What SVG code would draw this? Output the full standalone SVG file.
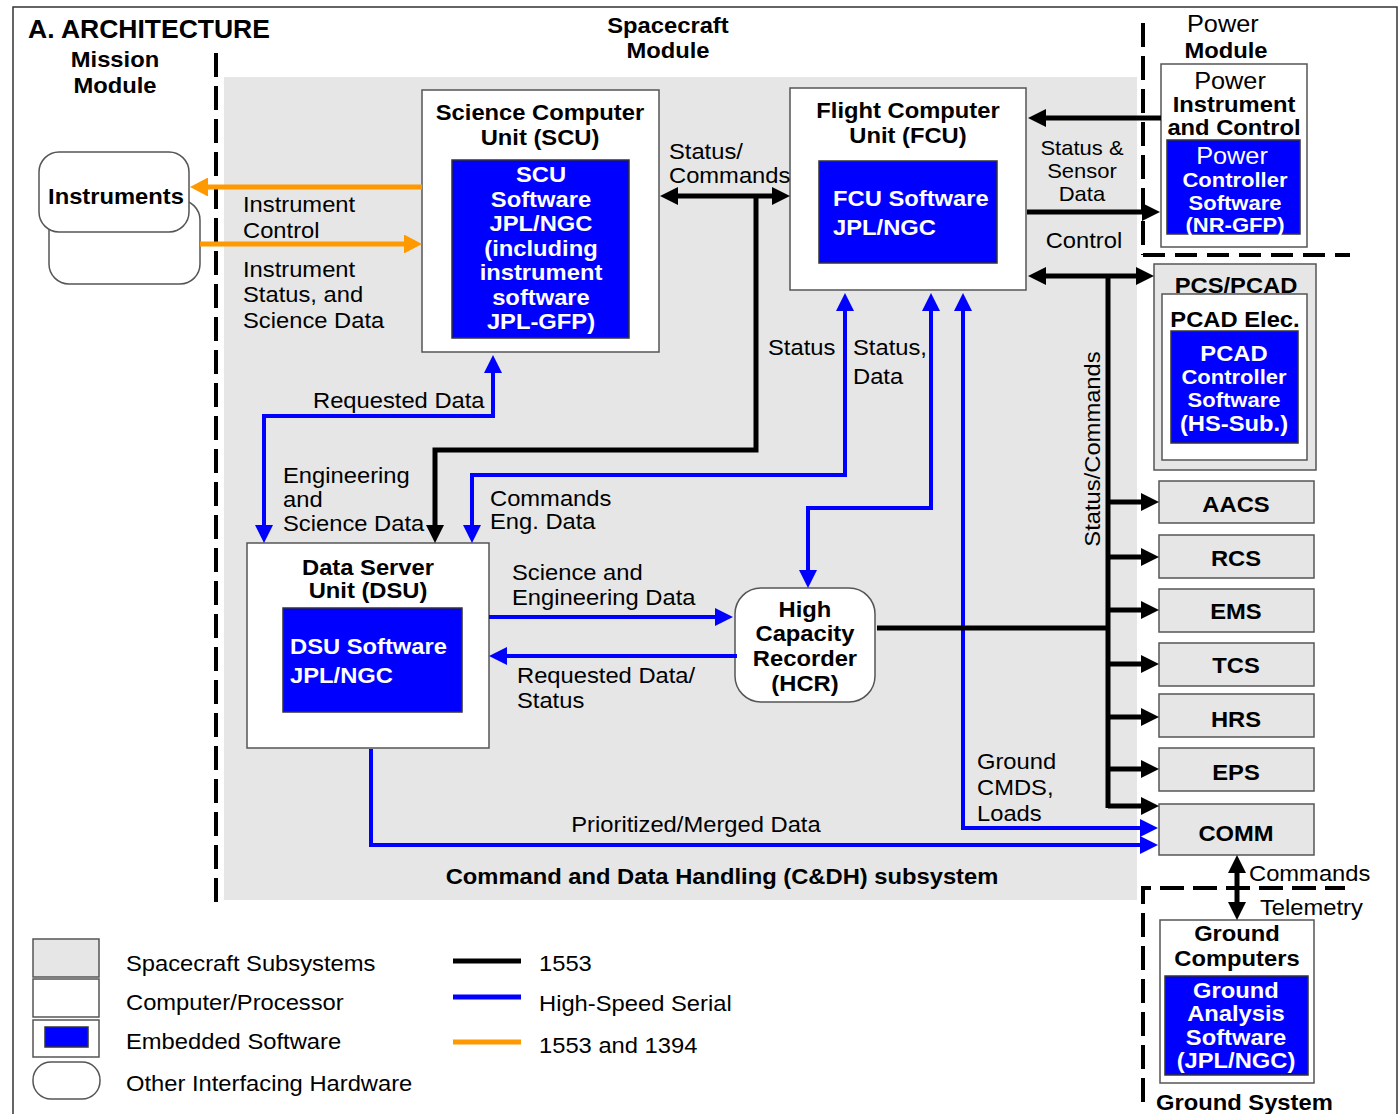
<svg xmlns="http://www.w3.org/2000/svg" width="1400" height="1114" viewBox="0 0 1400 1114">
<style>
text{font-family:"Liberation Sans",Arial,sans-serif;font-size:21.6px;fill:#000;transform-box:fill-box;transform-origin:0 0;transform:scaleX(1.1)}
.m{text-anchor:middle;transform-origin:50% 0}
.b{font-weight:bold}
.w{fill:#fff}
.ttl{font-size:26.5px;transform:none}
.pw{font-size:23px}
.sm{font-size:20px}
.box{fill:#fff;stroke:#555;stroke-width:1.5}
.sub{fill:#e6e6e6;stroke:#555;stroke-width:1.5}
.sw{fill:#0000ff;stroke:#333;stroke-width:1.5}
.k{stroke:#000;stroke-width:5;fill:none;stroke-linejoin:miter}
.bl{stroke:#0000ff;stroke-width:4;fill:none}
.or{stroke:#ff9900;stroke-width:5;fill:none}
.dash{stroke:#000;stroke-width:4;stroke-dasharray:24 9;fill:none}
</style>
<defs>
<marker id="ak" viewBox="0 -9 18 18" refX="0" refY="0" markerWidth="18" markerHeight="18" markerUnits="userSpaceOnUse" orient="auto-start-reverse"><path d="M0,-9 L18,0 L0,9 z" fill="#000"/></marker>
<marker id="ab" viewBox="0 -9 18 18" refX="0" refY="0" markerWidth="18" markerHeight="18" markerUnits="userSpaceOnUse" orient="auto-start-reverse"><path d="M0,-9 L18,0 L0,9 z" fill="#0000ff"/></marker>
<marker id="ao" viewBox="0 -9 18 18" refX="0" refY="0" markerWidth="18" markerHeight="18" markerUnits="userSpaceOnUse" orient="auto-start-reverse"><path d="M0,-9.5 L18,0 L0,9.5 z" fill="#ff9900"/></marker>
</defs>

<rect x="13" y="7" width="1384" height="1120" fill="#fff" stroke="#333" stroke-width="1.5"/>
<rect id="cdh-region" x="224" y="77" width="913" height="823" fill="#e6e6e6"/>

<g id="boundaries">
<path class="dash" d="M216,53 V905"/>
<path class="dash" d="M1143,23 V255"/>
<path class="dash" d="M1143,255 H1350" style="stroke-dasharray:22 10"/>
<path class="dash" d="M1143,1102 V888 H1345" style="stroke-dasharray:24 9"/>
</g>

<g id="headings">
<text x="28" y="38" class="b ttl">A. ARCHITECTURE</text>
<text x="115" y="67" class="b m">Mission</text>
<text x="115" y="93" class="b m">Module</text>
<text x="668" y="33" class="b m">Spacecraft</text>
<text x="668" y="58" class="b m">Module</text>
<text x="1187" y="32" class="pw">Power</text>
<text x="1226" y="58" class="b m">Module</text>
<text x="722" y="884" class="b m">Command and Data Handling (C&amp;DH) subsystem</text>
<text x="1156" y="1110" class="b">Ground System</text>
</g>

<g id="instruments">
<rect x="49" y="200" width="151" height="84" rx="20" class="box"/>
<rect x="39" y="152" width="150" height="80" rx="20" class="box"/>
<text x="116" y="204" class="b m">Instruments</text>
</g>

<g id="scu">
<rect x="422" y="90" width="237" height="262" class="box"/>
<text x="540" y="120" class="b m">Science Computer</text>
<text x="540" y="145" class="b m">Unit (SCU)</text>
<rect x="452" y="160" width="177" height="178" class="sw"/>
<text x="541" y="182" class="b m w">SCU</text>
<text x="541" y="207" class="b m w">Software</text>
<text x="541" y="231" class="b m w">JPL/NGC</text>
<text x="541" y="256" class="b m w">(including</text>
<text x="541" y="280" class="b m w">instrument</text>
<text x="541" y="305" class="b m w">software</text>
<text x="541" y="329" class="b m w">JPL-GFP)</text>
</g>

<g id="fcu">
<rect x="790" y="88" width="236" height="202" class="box"/>
<text x="908" y="118" class="b m">Flight Computer</text>
<text x="908" y="143" class="b m">Unit (FCU)</text>
<rect x="819" y="161" width="178" height="102" class="sw"/>
<text x="833" y="206" class="b w">FCU Software</text>
<text x="833" y="235" class="b w">JPL/NGC</text>
</g>

<g id="dsu">
<rect x="247" y="543" width="242" height="205" class="box"/>
<text x="368" y="575" class="b m">Data Server</text>
<text x="368" y="598" class="b m">Unit (DSU)</text>
<rect x="283" y="608" width="179" height="104" class="sw"/>
<text x="290" y="654" class="b w">DSU Software</text>
<text x="290" y="683" class="b w">JPL/NGC</text>
</g>

<g id="hcr">
<rect x="735" y="588" width="140" height="114" rx="26" class="box"/>
<text x="805" y="617" class="b m">High</text>
<text x="805" y="641" class="b m">Capacity</text>
<text x="805" y="666" class="b m">Recorder</text>
<text x="805" y="691" class="b m">(HCR)</text>
</g>

<g id="power">
<rect x="1161" y="64" width="146" height="183" class="box"/>
<text x="1230" y="89" class="m pw">Power</text>
<text x="1234" y="112" class="b m">Instrument</text>
<text x="1234" y="135" class="b m">and Control</text>
<rect x="1167" y="140" width="133" height="94" class="sw"/>
<text x="1232" y="164" class="m w pw">Power</text>
<text x="1235" y="187" class="b m w sm">Controller</text>
<text x="1235" y="210" class="b m w sm">Software</text>
<text x="1235" y="232" class="b m w sm">(NR-GFP)</text>
</g>

<g id="pcs">
<rect x="1154" y="264" width="162" height="206" class="sub"/>
<text x="1236" y="293" class="b m">PCS/PCAD</text>
<rect x="1162" y="294" width="145" height="166" class="box"/>
<text x="1235" y="327" class="b m">PCAD Elec.</text>
<rect x="1171" y="331" width="127" height="112" class="sw"/>
<text x="1234" y="361" class="b m w">PCAD</text>
<text x="1234" y="384" class="b m w sm">Controller</text>
<text x="1234" y="407" class="b m w sm">Software</text>
<text x="1234" y="431" class="b m w">(HS-Sub.)</text>
</g>

<g id="aacs"><rect x="1159" y="481" width="155" height="42" class="sub"/><text x="1236" y="512" class="b m">AACS</text></g>
<g id="rcs"><rect x="1159" y="535" width="155" height="43" class="sub"/><text x="1236" y="566" class="b m">RCS</text></g>
<g id="ems"><rect x="1159" y="589" width="155" height="43" class="sub"/><text x="1236" y="619" class="b m">EMS</text></g>
<g id="tcs"><rect x="1159" y="643" width="155" height="43" class="sub"/><text x="1236" y="673" class="b m">TCS</text></g>
<g id="hrs"><rect x="1159" y="694" width="155" height="43" class="sub"/><text x="1236" y="727" class="b m">HRS</text></g>
<g id="eps"><rect x="1159" y="748" width="155" height="43" class="sub"/><text x="1236" y="780" class="b m">EPS</text></g>
<g id="comm"><rect x="1159" y="804" width="155" height="51" class="sub"/><text x="1236" y="841" class="b m">COMM</text></g>

<g id="ground">
<rect x="1160" y="920" width="154" height="163" class="box"/>
<text x="1237" y="941" class="b m">Ground</text>
<text x="1237" y="966" class="b m">Computers</text>
<rect x="1165" y="976" width="143" height="99" class="sw"/>
<text x="1236" y="998" class="b m w">Ground</text>
<text x="1236" y="1021" class="b m w">Analysis</text>
<text x="1236" y="1045" class="b m w">Software</text>
<text x="1236" y="1068" class="b m w">(JPL/NGC)</text>
</g>

<g id="connectors">
<path class="or" d="M422,187 H208" marker-end="url(#ao)"/>
<path class="or" d="M200,244 H404" marker-end="url(#ao)"/>
<path class="k" d="M678,196 H772" marker-start="url(#ak)" marker-end="url(#ak)"/>
<path class="k" d="M756,196 V450 H435 V525" marker-end="url(#ak)"/>
<path class="bl" d="M264,525 V416 H493 V373" marker-start="url(#ab)" marker-end="url(#ab)"/>
<path class="bl" d="M472,525 V475 H845 V311" marker-start="url(#ab)" marker-end="url(#ab)"/>
<path class="bl" d="M808,570 V508 H931 V311" marker-start="url(#ab)" marker-end="url(#ab)"/>
<path class="bl" d="M963,311 V828 H1140" marker-start="url(#ab)" marker-end="url(#ab)"/>
<path class="bl" d="M371,749 V845 H1140" marker-end="url(#ab)"/>
<path class="bl" d="M489,617 H715" marker-end="url(#ab)"/>
<path class="bl" d="M737,656 H507" marker-end="url(#ab)"/>
<path class="k" d="M877,628 H1108"/>
<path class="k" d="M1161,118 H1046" marker-end="url(#ak)"/>
<path class="k" d="M1027,212 H1142" marker-end="url(#ak)"/>
<path class="k" d="M1046,276 H1136" marker-start="url(#ak)" marker-end="url(#ak)"/>
<path class="k" d="M1108,276 V808"/>
<path class="k" d="M1108,502 H1141" marker-end="url(#ak)"/>
<path class="k" d="M1108,557 H1141" marker-end="url(#ak)"/>
<path class="k" d="M1108,610 H1141" marker-end="url(#ak)"/>
<path class="k" d="M1108,664 H1141" marker-end="url(#ak)"/>
<path class="k" d="M1108,717 H1141" marker-end="url(#ak)"/>
<path class="k" d="M1108,769 H1141" marker-end="url(#ak)"/>
<path class="k" d="M1108,806 H1141" marker-end="url(#ak)"/>
<path class="k" d="M1237,873 V902" marker-start="url(#ak)" marker-end="url(#ak)"/>
</g>

<g id="connector-labels">
<text x="243" y="212">Instrument</text>
<text x="243" y="238">Control</text>
<text x="243" y="277">Instrument</text>
<text x="243" y="302">Status, and</text>
<text x="243" y="328">Science Data</text>
<text x="669" y="159">Status/</text>
<text x="669" y="183">Commands</text>
<text x="768" y="355">Status</text>
<text x="853" y="355">Status,</text>
<text x="853" y="384">Data</text>
<text x="313" y="408">Requested Data</text>
<text x="283" y="483">Engineering</text>
<text x="283" y="507">and</text>
<text x="283" y="531">Science Data</text>
<text x="490" y="506">Commands</text>
<text x="490" y="529">Eng. Data</text>
<text x="512" y="580">Science and</text>
<text x="512" y="605">Engineering Data</text>
<text x="517" y="683">Requested Data/</text>
<text x="517" y="708">Status</text>
<text x="977" y="769">Ground</text>
<text x="977" y="795">CMDS,</text>
<text x="977" y="821">Loads</text>
<text x="696" y="832" class="m">Prioritized/Merged Data</text>
<text x="1082" y="155" class="m sm">Status &amp;</text>
<text x="1082" y="178" class="m sm">Sensor</text>
<text x="1082" y="201" class="m sm">Data</text>
<text x="1084" y="248" class="m">Control</text>
<g transform="translate(1100,449) rotate(-90)"><text x="0" y="0" class="m">Status/Commands</text></g>
<text x="1249" y="881">Commands</text>
<text x="1260" y="915">Telemetry</text>
</g>

<g id="legend">
<rect x="33" y="939" width="66" height="38" class="sub"/>
<rect x="33" y="979" width="66" height="38" class="box"/>
<rect x="33" y="1020" width="66" height="37" class="box"/>
<rect x="45" y="1027" width="43" height="20" class="sw"/>
<rect x="33" y="1062" width="67" height="37" rx="18" class="box"/>
<text x="126" y="971">Spacecraft Subsystems</text>
<text x="126" y="1010">Computer/Processor</text>
<text x="126" y="1049">Embedded Software</text>
<text x="126" y="1091">Other Interfacing Hardware</text>
<path d="M453,961 H521" stroke="#000" stroke-width="5"/>
<path d="M453,997 H521" stroke="#0000ff" stroke-width="5"/>
<path d="M453,1042 H521" stroke="#ff9900" stroke-width="5"/>
<text x="539" y="971">1553</text>
<text x="539" y="1011">High-Speed Serial</text>
<text x="539" y="1053">1553 and 1394</text>
</g>
</svg>
